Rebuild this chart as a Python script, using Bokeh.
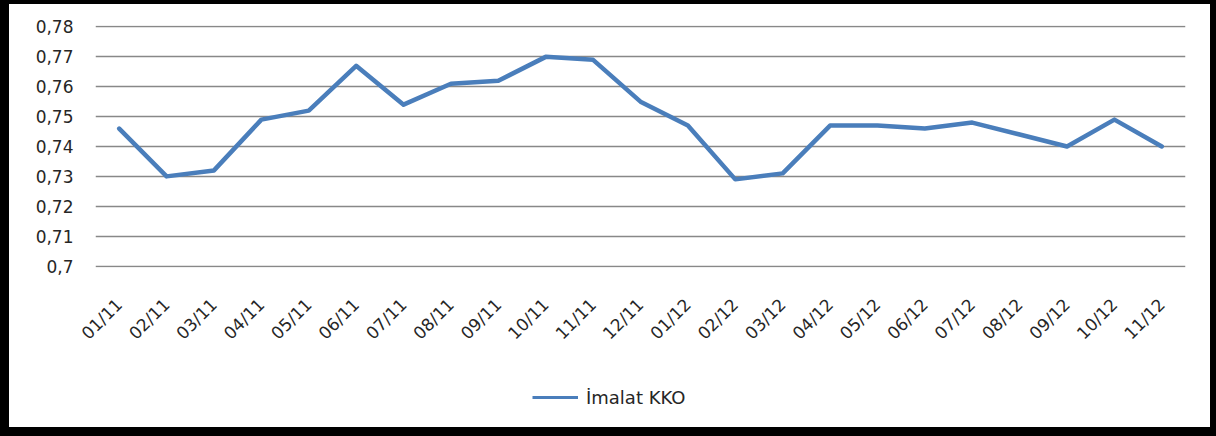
import math
from bokeh.plotting import figure
from bokeh.layouts import column
from bokeh.models import (FixedTicker, CustomJSTickFormatter, Legend, LegendItem,
                          ColumnDataSource, Range1d)
from bokeh.embed import file_html
from bokeh.resources import INLINE

months = ["01/11", "02/11", "03/11", "04/11", "05/11", "06/11", "07/11", "08/11",
          "09/11", "10/11", "11/11", "12/11", "01/12", "02/12", "03/12", "04/12",
          "05/12", "06/12", "07/12", "08/12", "09/12", "10/12", "11/12"]
kko = [0.746, 0.730, 0.732, 0.749, 0.752, 0.767, 0.754, 0.761,
       0.762, 0.770, 0.769, 0.755, 0.747, 0.729, 0.731, 0.747,
       0.747, 0.746, 0.748, 0.744, 0.740, 0.749, 0.740]
y_ticks = [0.70, 0.71, 0.72, 0.73, 0.74, 0.75, 0.76, 0.77, 0.78]
series_name = "İmalat KKO"

FONT = "DejaVu Sans"
TEXT = "#262626"
BLUE = "#4A7EBB"

src = ColumnDataSource(dict(m=months, v=kko))

# main chart (white area inside the black frame drawn by the wrapping column)
p = figure(x_range=months, y_range=(0.6995, 0.7805), width=1201, height=349,
           output_backend="svg", toolbar_location=None,
           min_border_left=86, min_border_right=25, min_border_top=21,
           min_border_bottom=85)
p.outline_line_color = None
p.background_fill_color = "white"
p.border_fill_color = "white"

p.line("m", "v", source=src, line_color=BLUE, line_width=4.5,
       line_join="round", line_cap="round")

p.xgrid.grid_line_color = None
p.ygrid.grid_line_color = "#888888"
p.ygrid.grid_line_width = 1.5
p.x_range.range_padding = 0

p.yaxis.ticker = FixedTicker(ticks=y_ticks)
p.yaxis.formatter = CustomJSTickFormatter(
    code="var s = tick.toFixed(2); if (s.endsWith('0')) s = s.slice(0, -1); return s.replace('.', ',');")
for ax in (p.xaxis, p.yaxis):
    ax.axis_line_color = None
    ax.major_tick_line_color = None
    ax.minor_tick_line_color = None
    ax.major_tick_out = 0
    ax.major_tick_in = 0
    ax.major_label_text_font = FONT
    ax.major_label_text_font_size = "17px"
    ax.major_label_text_color = TEXT
p.yaxis.major_label_standoff = 22
p.xaxis.major_label_orientation = math.pi / 4
p.xaxis.major_label_standoff = 34

# legend strip below the chart (its series is kept outside the visible range,
# only the legend key is shown)
q = figure(width=1201, height=74, output_backend="svg", toolbar_location=None,
           x_range=p.x_range, y_range=Range1d(2, 3),
           x_axis_location=None, y_axis_location=None, min_border=0)
q.outline_line_color = None
q.grid.grid_line_color = None
q.background_fill_color = "white"
q.border_fill_color = "white"
key = q.line("m", "v", source=src, line_color=BLUE, line_width=3)

legend = Legend(items=[LegendItem(label=series_name, renderers=[key])],
                location=(437, 15), orientation="horizontal",
                border_line_color=None, background_fill_alpha=0,
                label_text_font=FONT, label_text_font_size="18px",
                label_text_color=TEXT, glyph_width=46, glyph_height=30,
                padding=0, margin=0, label_standoff=8)
q.add_layout(legend)

inner = column(p, q, spacing=0, styles={"background-color": "white"})
page = column(inner, styles={"background-color": "black",
                             "padding": "4px 6px 9px 9px"})

open("out.html", "w").write(file_html(page, INLINE))
